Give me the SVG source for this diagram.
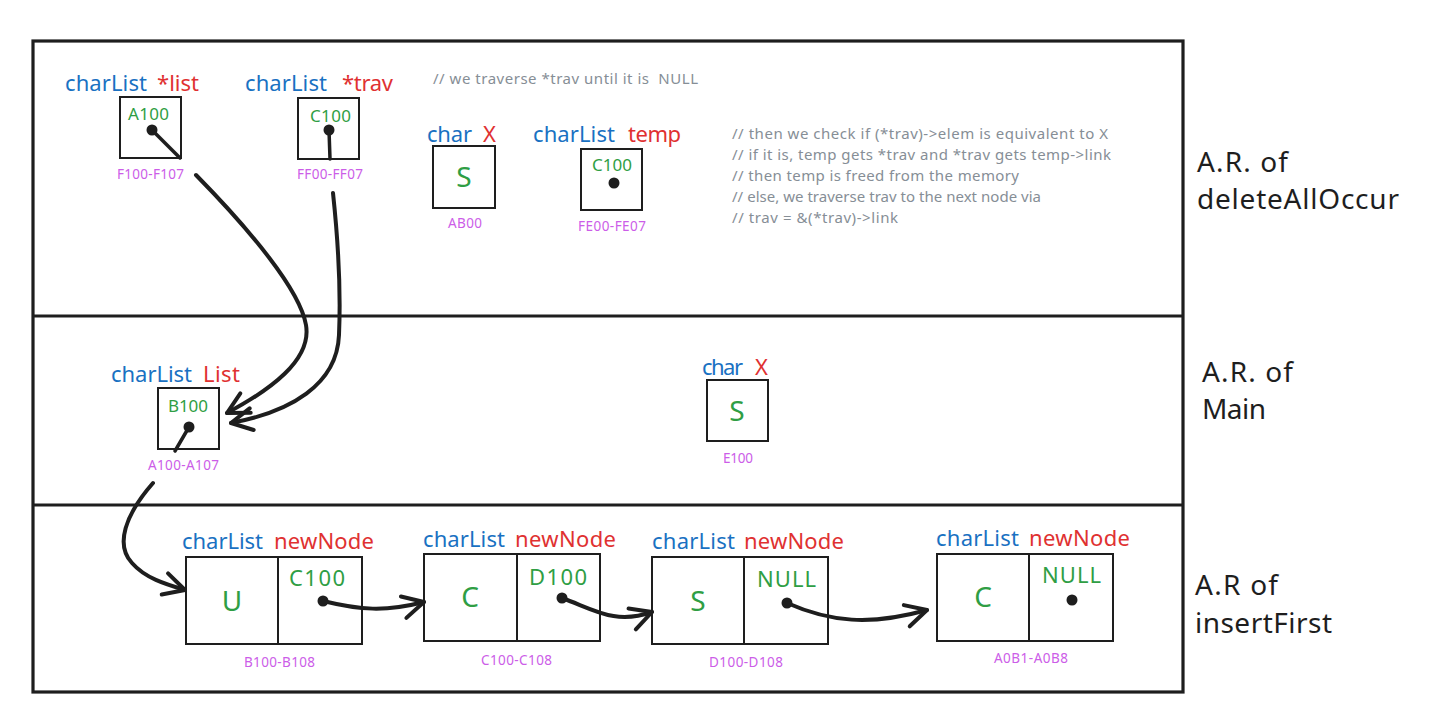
<svg xmlns="http://www.w3.org/2000/svg" width="1436" height="725" viewBox="0 0 1436 725">
<style>
text{font-family:"Noto Sans","Open Sans","Liberation Sans",sans-serif;}
.ty{fill:#1971c2;font-size:22px;}
.nm{fill:#e03131;font-size:22px;}
.val{fill:#2f9e44;font-size:17px;}
.big{fill:#2f9e44;font-size:28px;}
.nv{fill:#2f9e44;font-size:22px;}
.adr{fill:#cc5de8;font-size:13.5px;}
.cm{fill:#868e96;font-size:15px;}
.ar{fill:#1e1e1e;font-size:28px;}
.box{fill:none;stroke:#1e1e1e;stroke-width:2;}
.frame{fill:none;stroke:#1e1e1e;stroke-width:3.2;}
.ptr{fill:none;stroke:#1e1e1e;stroke-width:3.5;stroke-linecap:round;}
.conn{fill:none;stroke:#1e1e1e;stroke-width:4;stroke-linecap:round;}
.dot{fill:#1e1e1e;}
</style>
<defs>
<marker id="ah" viewBox="-26 -15 30 30" markerWidth="30" markerHeight="30" refX="0" refY="0" orient="auto" markerUnits="userSpaceOnUse">
<path d="M-21,-11 L0,0 L-21,11" fill="none" stroke="#1e1e1e" stroke-width="4" stroke-linecap="round" stroke-linejoin="round"/>
</marker>
</defs>
<rect width="1436" height="725" fill="#ffffff"/>

<g id="frames">
<rect class="frame" x="33" y="41" width="1150" height="651"/>
<line class="frame" x1="33" y1="316" x2="1183" y2="316"/>
<line class="frame" x1="33" y1="505" x2="1183" y2="505"/>
<text class="ar" x="1197" y="172" textLength="91">A.R. of</text>
<text class="ar" x="1197" y="209" textLength="202">deleteAllOccur</text>
<text class="ar" x="1202" y="382" textLength="91">A.R. of</text>
<text class="ar" x="1202" y="419" textLength="64">Main</text>
<text class="ar" x="1195" y="595" textLength="83">A.R of</text>
<text class="ar" x="1195" y="633" textLength="137">insertFirst</text>
</g>

<g id="comments">
<text class="cm" x="433" y="84" textLength="265" style="white-space:pre">// we traverse *trav until it is  NULL</text>
<text class="cm" x="732" y="139" textLength="376">// then we check if (*trav)-&gt;elem is equivalent to X</text>
<text class="cm" x="732" y="160" textLength="379">// if it is, temp gets *trav and *trav gets temp-&gt;link</text>
<text class="cm" x="732" y="181" textLength="287">// then temp is freed from the memory</text>
<text class="cm" x="732" y="202" textLength="309">// else, we traverse trav to the next node via</text>
<text class="cm" x="732" y="223" textLength="166">// trav = &amp;(*trav)-&gt;link</text>
</g>

<g id="list-ptr">
<text class="ty" x="65" y="91" textLength="82">charList</text>
<text class="nm" x="157" y="91" textLength="42">*list</text>
<rect class="box" x="120" y="97" width="61" height="61"/>
<text class="val" x="128" y="120" textLength="41">A100</text>
<circle class="dot" cx="152" cy="130" r="5.5"/>
<line class="ptr" x1="152" y1="130" x2="180" y2="158"/>
<text class="adr" x="117" y="179" textLength="67">F100-F107</text>
</g>

<g id="trav-ptr">
<text class="ty" x="245" y="91" textLength="82">charList</text>
<text class="nm" x="342" y="91" textLength="51">*trav</text>
<rect class="box" x="298" y="98" width="61" height="61"/>
<text class="val" x="310" y="122" textLength="41">C100</text>
<circle class="dot" cx="329" cy="130" r="5.5"/>
<line class="ptr" x1="329" y1="130" x2="330" y2="159"/>
<text class="adr" x="297" y="179" textLength="66">FF00-FF07</text>
</g>

<g id="char-x-del">
<text class="ty" x="427" y="142" textLength="45">char</text>
<text class="nm" x="483" y="142" textLength="14">X</text>
<rect class="box" x="433" y="146" width="62" height="62"/>
<text class="big" x="464" y="187" text-anchor="middle">S</text>
<text class="adr" x="448" y="228" textLength="34">AB00</text>
</g>

<g id="temp-ptr">
<text class="ty" x="533" y="142" textLength="82">charList</text>
<text class="nm" x="628" y="142" textLength="53">temp</text>
<rect class="box" x="581" y="149" width="61" height="61"/>
<text class="val" x="592" y="171" textLength="40">C100</text>
<circle class="dot" cx="614" cy="183" r="5.5"/>
<text class="adr" x="578" y="231" textLength="68">FE00-FE07</text>
</g>

<g id="main-list">
<text class="ty" x="111" y="382" textLength="81">charList</text>
<text class="nm" x="203" y="382" textLength="37">List</text>
<rect class="box" x="158" y="388" width="61" height="61"/>
<text class="val" x="168" y="412" textLength="40">B100</text>
<circle class="dot" cx="189" cy="427" r="5.5"/>
<line class="ptr" x1="189" y1="427" x2="175" y2="451"/>
<text class="adr" x="148" y="470" textLength="71">A100-A107</text>
</g>

<g id="main-x">
<text class="ty" x="702" y="375" textLength="41">char</text>
<text class="nm" x="755" y="375" textLength="14">X</text>
<rect class="box" x="707" y="380" width="61" height="61"/>
<text class="big" x="737" y="421" text-anchor="middle">S</text>
<text class="adr" x="723" y="463" textLength="30">E100</text>
</g>

<g id="node-u">
<text class="ty" x="182" y="549" textLength="81">charList</text>
<text class="nm" x="274" y="549" textLength="100">newNode</text>
<rect class="box" x="186" y="557" width="176" height="87"/>
<line class="box" x1="278" y1="557" x2="278" y2="644"/>
<text class="big" x="232" y="611" text-anchor="middle">U</text>
<text class="nv" x="289" y="586" textLength="56">C100</text>
<circle class="dot" cx="323" cy="601" r="5.5"/>
<text class="adr" x="244" y="667" textLength="71">B100-B108</text>
</g>

<g id="node-c1">
<text class="ty" x="423" y="547" textLength="82">charList</text>
<text class="nm" x="515" y="547" textLength="101">newNode</text>
<rect class="box" x="424" y="554" width="176" height="87"/>
<line class="box" x1="517" y1="554" x2="517" y2="641"/>
<text class="big" x="470" y="607" text-anchor="middle">C</text>
<text class="nv" x="529" y="585" textLength="58">D100</text>
<circle class="dot" cx="562" cy="598" r="5.5"/>
<text class="adr" x="481" y="665" textLength="71">C100-C108</text>
</g>

<g id="node-s">
<text class="ty" x="652" y="549" textLength="83">charList</text>
<text class="nm" x="744" y="549" textLength="100">newNode</text>
<rect class="box" x="652" y="557" width="176" height="87"/>
<line class="box" x1="744" y1="557" x2="744" y2="644"/>
<text class="big" x="698" y="611" text-anchor="middle">S</text>
<text class="nv" x="757" y="587" textLength="59">NULL</text>
<circle class="dot" cx="787" cy="603" r="5.5"/>
<text class="adr" x="709" y="667" textLength="74">D100-D108</text>
</g>

<g id="node-c2">
<text class="ty" x="936" y="546" textLength="83">charList</text>
<text class="nm" x="1029" y="546" textLength="101">newNode</text>
<rect class="box" x="937" y="554" width="176" height="87"/>
<line class="box" x1="1029" y1="554" x2="1029" y2="641"/>
<text class="big" x="983" y="607" text-anchor="middle">C</text>
<text class="nv" x="1042" y="583" textLength="59">NULL</text>
<circle class="dot" cx="1072" cy="600" r="5.5"/>
<text class="adr" x="994" y="663" textLength="74">A0B1-A0B8</text>
</g>

<g id="connectors">
<path class="conn" marker-end="url(#ah)" d="M196,175 C250,230 300,290 306,325 C312,360 270,390 227,413"/>
<path class="conn" marker-end="url(#ah)" d="M333,193 C338,240 341,290 339,335 C337,385 290,412 231,423"/>
<path class="conn" marker-end="url(#ah)" d="M153,483 C125,515 115,545 132,563 C145,578 165,584 185,590"/>
<path class="conn" marker-end="url(#ah)" d="M323,601 C360,610 385,612 424,602"/>
<path class="conn" marker-end="url(#ah)" d="M562,598 C595,610 615,625 652,612"/>
<path class="conn" marker-end="url(#ah)" d="M787,603 C830,622 870,626 927,610"/>
</g>
</svg>
